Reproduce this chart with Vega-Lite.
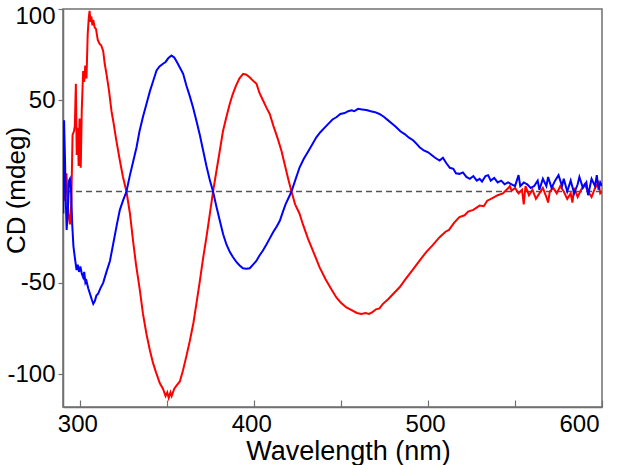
{
  "$schema": "https://vega.github.io/schema/vega-lite/v6.json",
  "width": 539,
  "height": 398,
  "autosize": {"type": "none"},
  "padding": {"left": 63, "top": 9, "right": 18, "bottom": 58},
  "background": "white",
  "config": {
    "view": {"stroke": "#707070", "strokeWidth": 1.5},
    "font": "Liberation Sans",
    "axis": {
      "grid": false,
      "domainColor": "#707070",
      "domainWidth": 1.5,
      "tickColor": "#707070",
      "tickWidth": 1.2,
      "labelColor": "black",
      "labelFont": "Liberation Sans",
      "labelFontSize": 24,
      "titleFont": "Liberation Sans",
      "titleFontSize": 26,
      "titleFontWeight": "normal",
      "titleColor": "black"
    }
  },
  "datasets": {
    "zero": [{"v": 0}],
    "curves": [
      {"s": "red", "wl": 291, "cd": -5}, {"s": "red", "wl": 292, "cd": 10}, {"s": "red", "wl": 293, "cd": -12}, {"s": "red", "wl": 294, "cd": -18}, {"s": "red", "wl": 294.8, "cd": -5}, {"s": "red", "wl": 295.5, "cd": 31}, {"s": "red", "wl": 296.3, "cd": 33}, {"s": "red", "wl": 296.8, "cd": 36}, {"s": "red", "wl": 297.4, "cd": 59}, {"s": "red", "wl": 297.9, "cd": 20}, {"s": "red", "wl": 298.5, "cd": 35}, {"s": "red", "wl": 299, "cd": 14}, {"s": "red", "wl": 299.5, "cd": 40}, {"s": "red", "wl": 300.2, "cd": 13}, {"s": "red", "wl": 300.8, "cd": 45}, {"s": "red", "wl": 301.6, "cd": 66}, {"s": "red", "wl": 302.2, "cd": 60}, {"s": "red", "wl": 302.8, "cd": 69}, {"s": "red", "wl": 303.5, "cd": 62}, {"s": "red", "wl": 304.2, "cd": 86}, {"s": "red", "wl": 304.8, "cd": 95}, {"s": "red", "wl": 305.3, "cd": 99}, {"s": "red", "wl": 305.8, "cd": 93}, {"s": "red", "wl": 306.3, "cd": 96}, {"s": "red", "wl": 306.9, "cd": 91}, {"s": "red", "wl": 307.4, "cd": 94}, {"s": "red", "wl": 308.2, "cd": 90}, {"s": "red", "wl": 309, "cd": 89}, {"s": "red", "wl": 310, "cd": 83}, {"s": "red", "wl": 311, "cd": 81}, {"s": "red", "wl": 312, "cd": 80}, {"s": "red", "wl": 313.1, "cd": 77}, {"s": "red", "wl": 314, "cd": 70}, {"s": "red", "wl": 315, "cd": 64.5}, {"s": "red", "wl": 316.5, "cd": 55}, {"s": "red", "wl": 317.9, "cd": 44}, {"s": "red", "wl": 319, "cd": 38}, {"s": "red", "wl": 320.5, "cd": 29}, {"s": "red", "wl": 322.7, "cd": 17}, {"s": "red", "wl": 324.5, "cd": 8}, {"s": "red", "wl": 326.5, "cd": 0}, {"s": "red", "wl": 328.5, "cd": -12}, {"s": "red", "wl": 330.3, "cd": -27}, {"s": "red", "wl": 332, "cd": -40}, {"s": "red", "wl": 334.2, "cd": -54}, {"s": "red", "wl": 336, "cd": -67}, {"s": "red", "wl": 338, "cd": -78}, {"s": "red", "wl": 340, "cd": -87}, {"s": "red", "wl": 341.8, "cd": -94}, {"s": "red", "wl": 343.5, "cd": -99}, {"s": "red", "wl": 345.7, "cd": -105}, {"s": "red", "wl": 347.5, "cd": -108}, {"s": "red", "wl": 349, "cd": -112}, {"s": "red", "wl": 350, "cd": -110}, {"s": "red", "wl": 350.8, "cd": -113}, {"s": "red", "wl": 351.8, "cd": -110}, {"s": "red", "wl": 352.5, "cd": -112}, {"s": "red", "wl": 354, "cd": -108}, {"s": "red", "wl": 355.5, "cd": -106}, {"s": "red", "wl": 357.2, "cd": -104}, {"s": "red", "wl": 359, "cd": -98}, {"s": "red", "wl": 361, "cd": -90}, {"s": "red", "wl": 362.9, "cd": -82}, {"s": "red", "wl": 365, "cd": -72}, {"s": "red", "wl": 366.8, "cd": -61}, {"s": "red", "wl": 368.7, "cd": -49}, {"s": "red", "wl": 370.5, "cd": -37}, {"s": "red", "wl": 372.5, "cd": -25}, {"s": "red", "wl": 374.5, "cd": -12}, {"s": "red", "wl": 376.3, "cd": 0}, {"s": "red", "wl": 378.2, "cd": 11}, {"s": "red", "wl": 380.2, "cd": 22.5}, {"s": "red", "wl": 382, "cd": 33}, {"s": "red", "wl": 384, "cd": 41}, {"s": "red", "wl": 385.9, "cd": 48}, {"s": "red", "wl": 387.5, "cd": 53}, {"s": "red", "wl": 389.5, "cd": 58}, {"s": "red", "wl": 391.5, "cd": 62}, {"s": "red", "wl": 393.6, "cd": 64.5}, {"s": "red", "wl": 395.5, "cd": 64}, {"s": "red", "wl": 397.5, "cd": 62.5}, {"s": "red", "wl": 399.5, "cd": 60.5}, {"s": "red", "wl": 401.3, "cd": 59}, {"s": "red", "wl": 403, "cd": 54}, {"s": "red", "wl": 405, "cd": 50}, {"s": "red", "wl": 407, "cd": 46}, {"s": "red", "wl": 408.9, "cd": 42.5}, {"s": "red", "wl": 411, "cd": 36}, {"s": "red", "wl": 413.5, "cd": 29}, {"s": "red", "wl": 415.6, "cd": 22.5}, {"s": "red", "wl": 417.5, "cd": 15}, {"s": "red", "wl": 419.5, "cd": 7}, {"s": "red", "wl": 421.4, "cd": 0}, {"s": "red", "wl": 423.5, "cd": -7}, {"s": "red", "wl": 426, "cd": -12}, {"s": "red", "wl": 428, "cd": -18}, {"s": "red", "wl": 431, "cd": -26}, {"s": "red", "wl": 434, "cd": -33}, {"s": "red", "wl": 437.6, "cd": -41.5}, {"s": "red", "wl": 441, "cd": -48}, {"s": "red", "wl": 444, "cd": -53}, {"s": "red", "wl": 447.2, "cd": -58}, {"s": "red", "wl": 450, "cd": -61}, {"s": "red", "wl": 453, "cd": -63.5}, {"s": "red", "wl": 456, "cd": -65}, {"s": "red", "wl": 459, "cd": -66.5}, {"s": "red", "wl": 461.6, "cd": -67}, {"s": "red", "wl": 464, "cd": -66.5}, {"s": "red", "wl": 466, "cd": -67}, {"s": "red", "wl": 468, "cd": -66}, {"s": "red", "wl": 470, "cd": -64.5}, {"s": "red", "wl": 472, "cd": -64}, {"s": "red", "wl": 474, "cd": -61.5}, {"s": "red", "wl": 477, "cd": -59}, {"s": "red", "wl": 480, "cd": -56}, {"s": "red", "wl": 483.6, "cd": -52.4}, {"s": "red", "wl": 487, "cd": -48}, {"s": "red", "wl": 491, "cd": -43}, {"s": "red", "wl": 495.1, "cd": -37.8}, {"s": "red", "wl": 499, "cd": -33}, {"s": "red", "wl": 502.5, "cd": -29.5}, {"s": "red", "wl": 506.6, "cd": -25}, {"s": "red", "wl": 510, "cd": -22}, {"s": "red", "wl": 512, "cd": -21}, {"s": "red", "wl": 515, "cd": -17}, {"s": "red", "wl": 518, "cd": -14}, {"s": "red", "wl": 521, "cd": -13}, {"s": "red", "wl": 523, "cd": -11}, {"s": "red", "wl": 526, "cd": -10}, {"s": "red", "wl": 529.6, "cd": -7.7}, {"s": "red", "wl": 532, "cd": -8}, {"s": "red", "wl": 534, "cd": -5}, {"s": "red", "wl": 537, "cd": -3.6}, {"s": "red", "wl": 540, "cd": -2}, {"s": "red", "wl": 543, "cd": -1}, {"s": "red", "wl": 546, "cd": 1.8}, {"s": "red", "wl": 547, "cd": 3}, {"s": "red", "wl": 548, "cd": 0.5}, {"s": "red", "wl": 550, "cd": 2}, {"s": "red", "wl": 552, "cd": -1}, {"s": "red", "wl": 554, "cd": 1}, {"s": "red", "wl": 555, "cd": -7}, {"s": "red", "wl": 556, "cd": 3}, {"s": "red", "wl": 558, "cd": -2}, {"s": "red", "wl": 560, "cd": 1}, {"s": "red", "wl": 562, "cd": -4}, {"s": "red", "wl": 564, "cd": -1}, {"s": "red", "wl": 566, "cd": 2}, {"s": "red", "wl": 568, "cd": -3}, {"s": "red", "wl": 569, "cd": -6}, {"s": "red", "wl": 570, "cd": 0}, {"s": "red", "wl": 572, "cd": 2}, {"s": "red", "wl": 574, "cd": -1}, {"s": "red", "wl": 576, "cd": 3}, {"s": "red", "wl": 578, "cd": 0}, {"s": "red", "wl": 580, "cd": -4}, {"s": "red", "wl": 582, "cd": -1}, {"s": "red", "wl": 583, "cd": -6}, {"s": "red", "wl": 584, "cd": 2}, {"s": "red", "wl": 586, "cd": -3}, {"s": "red", "wl": 588, "cd": 1}, {"s": "red", "wl": 590, "cd": 4}, {"s": "red", "wl": 592, "cd": 0}, {"s": "red", "wl": 594, "cd": -3}, {"s": "red", "wl": 596, "cd": 2}, {"s": "red", "wl": 598, "cd": 5}, {"s": "red", "wl": 599, "cd": -1}, {"s": "red", "wl": 600, "cd": 0},
      {"s": "blue", "wl": 290.2, "cd": -12}, {"s": "blue", "wl": 290.6, "cd": 39}, {"s": "blue", "wl": 291.1, "cd": 20}, {"s": "blue", "wl": 291.6, "cd": -5}, {"s": "blue", "wl": 292.1, "cd": -21}, {"s": "blue", "wl": 292.8, "cd": -10}, {"s": "blue", "wl": 293.5, "cd": 6}, {"s": "blue", "wl": 294, "cd": 7}, {"s": "blue", "wl": 294.6, "cd": 2}, {"s": "blue", "wl": 295.3, "cd": -18}, {"s": "blue", "wl": 296, "cd": -30}, {"s": "blue", "wl": 296.8, "cd": -36}, {"s": "blue", "wl": 297.8, "cd": -43}, {"s": "blue", "wl": 298.5, "cd": -40}, {"s": "blue", "wl": 299.2, "cd": -44}, {"s": "blue", "wl": 300, "cd": -41}, {"s": "blue", "wl": 300.8, "cd": -45}, {"s": "blue", "wl": 301.6, "cd": -47}, {"s": "blue", "wl": 302.2, "cd": -44}, {"s": "blue", "wl": 302.9, "cd": -50}, {"s": "blue", "wl": 303.5, "cd": -49}, {"s": "blue", "wl": 304.5, "cd": -53}, {"s": "blue", "wl": 305.5, "cd": -56}, {"s": "blue", "wl": 306.5, "cd": -59}, {"s": "blue", "wl": 307.4, "cd": -61.5}, {"s": "blue", "wl": 308.3, "cd": -60}, {"s": "blue", "wl": 309.2, "cd": -57}, {"s": "blue", "wl": 310.2, "cd": -56}, {"s": "blue", "wl": 311.5, "cd": -53}, {"s": "blue", "wl": 313.1, "cd": -50}, {"s": "blue", "wl": 315, "cd": -44}, {"s": "blue", "wl": 317, "cd": -38}, {"s": "blue", "wl": 319, "cd": -28}, {"s": "blue", "wl": 321, "cd": -18}, {"s": "blue", "wl": 322.7, "cd": -10}, {"s": "blue", "wl": 324.5, "cd": -5}, {"s": "blue", "wl": 326.5, "cd": 0}, {"s": "blue", "wl": 328.5, "cd": 9}, {"s": "blue", "wl": 330.5, "cd": 17}, {"s": "blue", "wl": 332.3, "cd": 24.3}, {"s": "blue", "wl": 334, "cd": 33}, {"s": "blue", "wl": 336, "cd": 41}, {"s": "blue", "wl": 338, "cd": 48}, {"s": "blue", "wl": 340, "cd": 55}, {"s": "blue", "wl": 342, "cd": 61}, {"s": "blue", "wl": 343.8, "cd": 66.3}, {"s": "blue", "wl": 345.5, "cd": 68.5}, {"s": "blue", "wl": 347.5, "cd": 70}, {"s": "blue", "wl": 349, "cd": 71}, {"s": "blue", "wl": 350.5, "cd": 73}, {"s": "blue", "wl": 352.4, "cd": 74.5}, {"s": "blue", "wl": 354, "cd": 73.5}, {"s": "blue", "wl": 355.5, "cd": 71}, {"s": "blue", "wl": 357.2, "cd": 68}, {"s": "blue", "wl": 359.1, "cd": 64.5}, {"s": "blue", "wl": 361, "cd": 58}, {"s": "blue", "wl": 363, "cd": 52}, {"s": "blue", "wl": 364.8, "cd": 46}, {"s": "blue", "wl": 366.8, "cd": 38.5}, {"s": "blue", "wl": 368.7, "cd": 31}, {"s": "blue", "wl": 370.6, "cd": 22.5}, {"s": "blue", "wl": 372.5, "cd": 14}, {"s": "blue", "wl": 374.5, "cd": 6}, {"s": "blue", "wl": 376.3, "cd": 0}, {"s": "blue", "wl": 378.2, "cd": -8}, {"s": "blue", "wl": 380.2, "cd": -16}, {"s": "blue", "wl": 382.1, "cd": -23.4}, {"s": "blue", "wl": 384, "cd": -29}, {"s": "blue", "wl": 385.9, "cd": -33}, {"s": "blue", "wl": 387.8, "cd": -36}, {"s": "blue", "wl": 389.7, "cd": -38.5}, {"s": "blue", "wl": 391.6, "cd": -40.5}, {"s": "blue", "wl": 393.5, "cd": -42}, {"s": "blue", "wl": 395.5, "cd": -42.3}, {"s": "blue", "wl": 397.4, "cd": -42}, {"s": "blue", "wl": 399.3, "cd": -40}, {"s": "blue", "wl": 401.2, "cd": -38}, {"s": "blue", "wl": 403, "cd": -35}, {"s": "blue", "wl": 405, "cd": -32.3}, {"s": "blue", "wl": 407, "cd": -29}, {"s": "blue", "wl": 409, "cd": -25.5}, {"s": "blue", "wl": 411, "cd": -22}, {"s": "blue", "wl": 413, "cd": -19}, {"s": "blue", "wl": 414.7, "cd": -16}, {"s": "blue", "wl": 416.5, "cd": -11}, {"s": "blue", "wl": 418, "cd": -7}, {"s": "blue", "wl": 419.7, "cd": -3.5}, {"s": "blue", "wl": 421.4, "cd": 0}, {"s": "blue", "wl": 423.5, "cd": 6}, {"s": "blue", "wl": 426.1, "cd": 13.3}, {"s": "blue", "wl": 428.5, "cd": 18}, {"s": "blue", "wl": 431, "cd": 22}, {"s": "blue", "wl": 433.5, "cd": 26}, {"s": "blue", "wl": 435.7, "cd": 29.7}, {"s": "blue", "wl": 438, "cd": 32.5}, {"s": "blue", "wl": 440.5, "cd": 35}, {"s": "blue", "wl": 443, "cd": 37.5}, {"s": "blue", "wl": 445, "cd": 39.5}, {"s": "blue", "wl": 447.2, "cd": 40.7}, {"s": "blue", "wl": 449.5, "cd": 42.5}, {"s": "blue", "wl": 452, "cd": 43}, {"s": "blue", "wl": 454, "cd": 44}, {"s": "blue", "wl": 456, "cd": 44.5}, {"s": "blue", "wl": 457.5, "cd": 44}, {"s": "blue", "wl": 459.7, "cd": 45.3}, {"s": "blue", "wl": 462, "cd": 45}, {"s": "blue", "wl": 464.5, "cd": 44.7}, {"s": "blue", "wl": 467, "cd": 44}, {"s": "blue", "wl": 469.5, "cd": 43.5}, {"s": "blue", "wl": 472, "cd": 42.5}, {"s": "blue", "wl": 474.5, "cd": 41}, {"s": "blue", "wl": 477, "cd": 39}, {"s": "blue", "wl": 479.5, "cd": 37}, {"s": "blue", "wl": 481.7, "cd": 35.2}, {"s": "blue", "wl": 484, "cd": 33}, {"s": "blue", "wl": 486.5, "cd": 31.5}, {"s": "blue", "wl": 489, "cd": 29.5}, {"s": "blue", "wl": 491.5, "cd": 28}, {"s": "blue", "wl": 493.5, "cd": 26}, {"s": "blue", "wl": 495.1, "cd": 24.3}, {"s": "blue", "wl": 497.5, "cd": 22.5}, {"s": "blue", "wl": 500, "cd": 21.5}, {"s": "blue", "wl": 502, "cd": 20}, {"s": "blue", "wl": 504, "cd": 18.5}, {"s": "blue", "wl": 506.6, "cd": 17}, {"s": "blue", "wl": 508.5, "cd": 18.5}, {"s": "blue", "wl": 510.5, "cd": 15.5}, {"s": "blue", "wl": 512.5, "cd": 13}, {"s": "blue", "wl": 514.5, "cd": 12.5}, {"s": "blue", "wl": 516, "cd": 10}, {"s": "blue", "wl": 518, "cd": 9.7}, {"s": "blue", "wl": 520, "cd": 10.5}, {"s": "blue", "wl": 522, "cd": 8}, {"s": "blue", "wl": 524, "cd": 7}, {"s": "blue", "wl": 526, "cd": 8.5}, {"s": "blue", "wl": 528, "cd": 6}, {"s": "blue", "wl": 529.6, "cd": 7}, {"s": "blue", "wl": 531, "cd": 5.5}, {"s": "blue", "wl": 533, "cd": 8.5}, {"s": "blue", "wl": 534.5, "cd": 9}, {"s": "blue", "wl": 536, "cd": 6}, {"s": "blue", "wl": 538, "cd": 7.5}, {"s": "blue", "wl": 540, "cd": 5}, {"s": "blue", "wl": 542, "cd": 6}, {"s": "blue", "wl": 544, "cd": 4}, {"s": "blue", "wl": 546, "cd": 5}, {"s": "blue", "wl": 548, "cd": 4}, {"s": "blue", "wl": 550, "cd": 3}, {"s": "blue", "wl": 552, "cd": 9}, {"s": "blue", "wl": 553, "cd": 3}, {"s": "blue", "wl": 555, "cd": 5}, {"s": "blue", "wl": 557, "cd": 4}, {"s": "blue", "wl": 559, "cd": 2}, {"s": "blue", "wl": 561, "cd": 3}, {"s": "blue", "wl": 563, "cd": 6}, {"s": "blue", "wl": 564, "cd": 1}, {"s": "blue", "wl": 566, "cd": 7}, {"s": "blue", "wl": 568, "cd": 3}, {"s": "blue", "wl": 569, "cd": 8}, {"s": "blue", "wl": 571, "cd": 2}, {"s": "blue", "wl": 573, "cd": 6}, {"s": "blue", "wl": 575, "cd": 9}, {"s": "blue", "wl": 577, "cd": 3}, {"s": "blue", "wl": 578, "cd": 7}, {"s": "blue", "wl": 580, "cd": 0}, {"s": "blue", "wl": 582, "cd": 6}, {"s": "blue", "wl": 584, "cd": -1}, {"s": "blue", "wl": 586, "cd": 4}, {"s": "blue", "wl": 587, "cd": 8}, {"s": "blue", "wl": 589, "cd": 2}, {"s": "blue", "wl": 591, "cd": 5}, {"s": "blue", "wl": 592, "cd": -2}, {"s": "blue", "wl": 594, "cd": 7}, {"s": "blue", "wl": 596, "cd": 3}, {"s": "blue", "wl": 597, "cd": 9}, {"s": "blue", "wl": 598, "cd": 1}, {"s": "blue", "wl": 599, "cd": 5}, {"s": "blue", "wl": 600, "cd": 3}
    ]
  },
  "layer": [
    {
      "data": {"name": "zero"},
      "mark": {"type": "rule", "strokeDash": [6, 4], "color": "#555555", "strokeWidth": 1.5},
      "encoding": {"y": {"field": "v", "type": "quantitative"}}
    },
    {
      "data": {"name": "curves"},
      "mark": {"type": "line", "strokeWidth": 2, "clip": true},
      "encoding": {
        "x": {
          "field": "wl", "type": "quantitative",
          "scale": {"domain": [290, 600], "nice": false, "zero": false},
          "axis": {
            "title": "Wavelength (nm)",
            "values": [300, 350, 400, 450, 500, 550, 600],
            "labelExpr": "datum.value % 100 == 0 ? toString(datum.value) : ''",
            "tickSize": -7,
            "labelPadding": 12,
            "labelOffset": -3,
            "titleX": 285,
            "titleY": 52,
            "titleBaseline": "alphabetic",
            "titleAlign": "center",
            "titleFontSize": 27
          }
        },
        "y": {
          "field": "cd", "type": "quantitative",
          "scale": {"domain": [-118, 100], "nice": false, "zero": false},
          "axis": {
            "title": "CD (mdeg)",
            "values": [-100, -50, 50, 100],
            "labelExpr": "toString(datum.value)",
            "tickSize": 5,
            "labelPadding": 3,
            "labelFlush": true,
            "labelFlushOffset": 5,
            "titleX": -39,
            "titleY": 181,
            "titleBaseline": "alphabetic",
            "titleAlign": "center",
            "titleAngle": -90
          }
        },
        "color": {
          "field": "s", "type": "nominal",
          "scale": {"domain": ["red", "blue"], "range": ["#ff0000", "#0000ff"]},
          "legend": null
        }
      }
    }
  ]
}
